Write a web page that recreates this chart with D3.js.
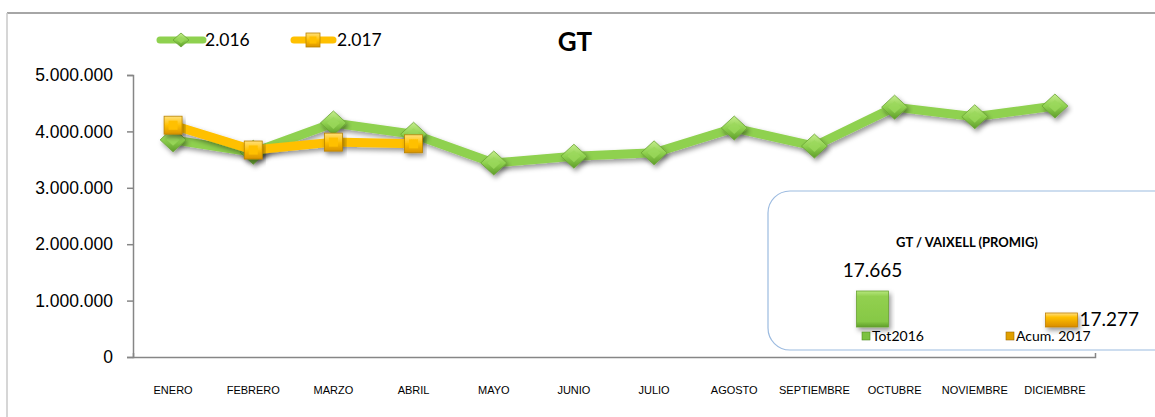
<!DOCTYPE html>
<html>
<head>
<meta charset="utf-8">
<script src="https://cdn.jsdelivr.net/npm/d3@7"></script>
<style>
  body { margin: 0; background: #fff; }
  svg { font-family: Lato, "Noto Sans", sans-serif; }
</style>
</head>
<body>
<div id="chart"></div>
<script>
// data
var months = ['ENERO', 'FEBRERO', 'MARZO', 'ABRIL', 'MAYO', 'JUNIO', 'JULIO', 'AGOSTO', 'SEPTIEMBRE', 'OCTUBRE', 'NOVIEMBRE', 'DICIEMBRE']
var gt2016 = [3850000, 3630000, 4150000, 3950000, 3440000, 3560000, 3620000, 4060000, 3740000, 4430000, 4260000, 4450000]
var gt2017 = [4110000, 3670000, 3810000, 3780000]
var yTicks = [0, 1000000, 2000000, 3000000, 4000000, 5000000]
var avgNames = ['Tot2016', 'Acum. 2017']
var avgValues = [17665, 17277]

var W = 1155, H = 417
var es = d3.formatLocale({decimal: ',', thousands: '.', grouping: [3], currency: ['', ' €']})
var fmt = es.format(',d')

var svg = d3.select('#chart').append('svg')
  .attr('width', W)
  .attr('height', H)

var defs = svg.append('defs')
var sh = defs.append('filter').attr('id', 'shadow')
  .attr('x', '-20%').attr('y', '-50%').attr('width', '140%').attr('height', '200%')
sh.append('feDropShadow').attr('dx', 2).attr('dy', 3).attr('stdDeviation', 2.5)
  .attr('flood-color', '#000').attr('flood-opacity', 0.4)

function grad(id, stops) {
  var g = defs.append('linearGradient').attr('id', id)
    .attr('x1', 0).attr('y1', 0).attr('x2', 0).attr('y2', 1)
  stops.forEach(function(s) {
    g.append('stop').attr('offset', s[0]).attr('stop-color', s[1])
  })
}
grad('gGreen', [[0, '#c4ec8c'], [0.5, '#8fd14f'], [1, '#5f9e2a']])
grad('gOrange', [[0, '#ffe07a'], [0.5, '#ffc000'], [1, '#d99400']])
grad('gBarGreen', [[0, '#b6e67c'], [0.15, '#92d050'], [0.85, '#86c845'], [1, '#5f9e2a']])
grad('gBarOrange', [[0, '#ffe08a'], [0.3, '#ffc000'], [1, '#d98c00']])

// outer frame
svg.append('line').attr('x1', 7).attr('x2', W).attr('y1', 13).attr('y2', 13)
  .attr('stroke', '#a6a6a6').attr('stroke-width', 2)
svg.append('line').attr('x1', 7).attr('x2', 7).attr('y1', 13).attr('y2', H)
  .attr('stroke', '#c8c8c8').attr('stroke-width', 1.5)

var x = d3.scaleBand().domain(months).range([133, 1095])
var y = d3.scaleLinear().domain([0, 5000000]).range([357, 75])
var cx = function(i) { return x(months[i]) + x.bandwidth() / 2 }

svg.append('g')
  .attr('transform', 'translate(133,0)')
  .call(d3.axisLeft(y).tickValues(yTicks).tickFormat(fmt).tickSize(6).tickPadding(14))
  .call(function(g) {
    g.selectAll('path, line').attr('stroke', '#868686').attr('stroke-width', 1.5)
    g.selectAll('text').attr('font-size', 17.5).attr('fill', '#000')
  })

svg.append('g')
  .attr('transform', 'translate(0,357)')
  .call(d3.axisBottom(x).tickSize(0).tickSizeOuter(-4).tickPadding(29))
  .call(function(g) {
    g.select('.domain').attr('stroke', '#868686').attr('stroke-width', 1.5)
    g.selectAll('text').attr('font-size', 11).attr('fill', '#000')
  })

// lines
var line = d3.line().x(function(d, i) { return cx(i) }).y(function(d) { return y(d) })

function diamond(sel, w, h) {
  sel.append('path')
    .attr('d', 'M0,' + (-h / 2) + 'L' + (w / 2) + ',0L0,' + (h / 2) + 'L' + (-w / 2) + ',0Z')
    .attr('fill', 'url(#gGreen)').attr('stroke', '#6aa334').attr('stroke-width', 0.8)
  sel.append('path')
    .attr('d', 'M0,' + (-h / 4) + 'L' + (w / 4) + ',0L0,' + (h / 4) + 'L' + (-w / 4) + ',0Z')
    .attr('fill', '#9bd85c').attr('opacity', 0.8)
}
function square(sel, s) {
  sel.append('rect').attr('x', -s / 2).attr('y', -s / 2).attr('width', s).attr('height', s)
    .attr('fill', 'url(#gOrange)').attr('stroke', '#b98200').attr('stroke-width', 0.8)
  sel.append('rect').attr('x', -s / 4).attr('y', -s / 4).attr('width', s / 2).attr('height', s / 2)
    .attr('fill', '#ffc000')
}

svg.append('path').datum(gt2016)
  .attr('d', line).attr('fill', 'none')
  .attr('stroke', '#8fd14f').attr('stroke-width', 9).attr('stroke-linejoin', 'round')
  .attr('filter', 'url(#shadow)')

svg.append('g').selectAll('g').data(gt2016).enter().append('g')
  .attr('transform', function(d, i) { return 'translate(' + cx(i) + ',' + y(d) + ')' })
  .attr('filter', 'url(#shadow)')
  .each(function() { diamond(d3.select(this), 26, 24) })

svg.append('path').datum(gt2017)
  .attr('d', line).attr('fill', 'none')
  .attr('stroke', '#ffc000').attr('stroke-width', 9).attr('stroke-linejoin', 'round')
  .attr('filter', 'url(#shadow)')

svg.append('g').selectAll('g').data(gt2017).enter().append('g')
  .attr('transform', function(d, i) { return 'translate(' + cx(i) + ',' + y(d) + ')' })
  .attr('filter', 'url(#shadow)')
  .each(function() { square(d3.select(this), 18) })

// legend
var lg = svg.append('g')
lg.append('line').attr('x1', 160).attr('x2', 203).attr('y1', 40).attr('y2', 40)
  .attr('stroke', '#8fd14f').attr('stroke-width', 7).attr('stroke-linecap', 'round')
diamond(lg.append('g').attr('transform', 'translate(181,40)'), 16, 14)
lg.append('text').attr('x', 205).attr('y', 46).attr('font-size', 17.5).text('2.016')
lg.append('line').attr('x1', 294).attr('x2', 333).attr('y1', 40).attr('y2', 40)
  .attr('stroke', '#ffc000').attr('stroke-width', 7).attr('stroke-linecap', 'round')
square(lg.append('g').attr('transform', 'translate(313,40)'), 14)
lg.append('text').attr('x', 337).attr('y', 46).attr('font-size', 17.5).text('2.017')

svg.append('text').attr('x', 575).attr('y', 51).attr('text-anchor', 'middle')
  .attr('font-size', 26).attr('font-weight', 'bold').text('GT')

// inset chart
var inset = svg.append('g')
inset.append('rect').attr('x', 768).attr('y', 191).attr('width', 420).attr('height', 159)
  .attr('rx', 22).attr('fill', '#fff').attr('stroke', '#9cbbe0').attr('stroke-width', 1.2)
inset.append('text').attr('x', 967).attr('y', 247).attr('text-anchor', 'middle')
  .attr('font-size', 13).attr('font-weight', 'bold').text('GT / VAIXELL (PROMIG)')

var ix = d3.scaleBand().domain(avgNames).range([778, 1156])
var iy = d3.scaleLinear().domain([17030, 17665]).range([327, 291])
var barW = 32
var fills = ['url(#gBarGreen)', 'url(#gBarOrange)']
var legColors = ['#7cc242', '#e0a000']

inset.selectAll('rect.bar').data(avgValues).enter().append('rect')
  .attr('class', 'bar')
  .attr('x', function(d, i) { return ix(avgNames[i]) + ix.bandwidth() / 2 - barW / 2 })
  .attr('y', function(d) { return iy(d) })
  .attr('width', barW)
  .attr('height', function(d) { return iy(17030) - iy(d) })
  .attr('fill', function(d, i) { return fills[i] })
  .attr('stroke', function(d, i) { return i ? '#c08000' : '#6aa334' })
  .attr('stroke-width', 0.8)
  .attr('filter', 'url(#shadow)')

inset.append('text')
  .attr('x', ix(avgNames[0]) + ix.bandwidth() / 2).attr('y', iy(avgValues[0]) - 14)
  .attr('text-anchor', 'middle').attr('font-size', 19).text(fmt(avgValues[0]))
inset.append('text')
  .attr('x', ix(avgNames[1]) + ix.bandwidth() / 2 + barW / 2 + 2).attr('y', iy(avgValues[1]) + 13)
  .attr('font-size', 19).text(fmt(avgValues[1]))

var legX = [862, 1006]
avgNames.forEach(function(n, i) {
  inset.append('rect').attr('x', legX[i]).attr('y', 332).attr('width', 8).attr('height', 8)
    .attr('fill', legColors[i]).attr('stroke', i ? '#a06800' : '#4f8a22').attr('stroke-width', 0.6)
  inset.append('text').attr('x', legX[i] + 10).attr('y', 341).attr('font-size', 14).text(n)
})
</script>
</body>
</html>
